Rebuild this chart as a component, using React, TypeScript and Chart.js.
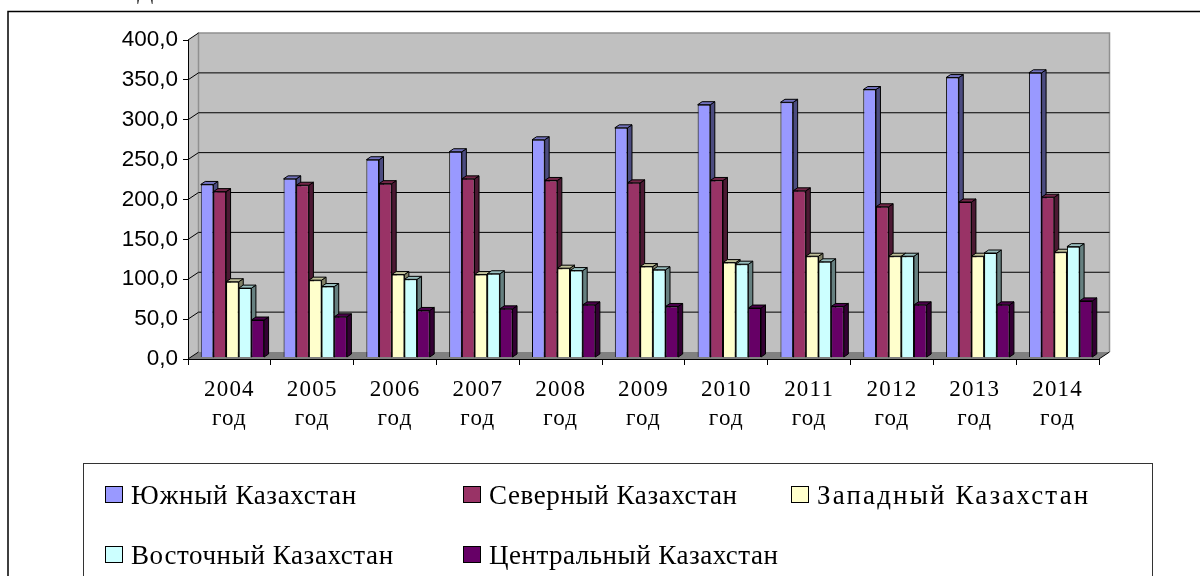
import React, { useEffect, useRef } from "react";
import { Chart, registerables } from "chart.js";

Chart.register(...registerables);

const categories = [["2004", "год"], ["2005", "год"], ["2006", "год"], ["2007", "год"], ["2008", "год"], ["2009", "год"], ["2010", "год"], ["2011", "год"], ["2012", "год"], ["2013", "год"], ["2014", "год"]];
const south = [217, 224, 248, 258, 273, 288, 317, 320, 336, 351, 357];
const north = [208, 216, 218, 224, 222, 219, 222, 209, 189, 195, 201];
const west = [95, 97, 104, 104, 112, 114, 119, 127, 127, 127, 132];
const east = [87, 89, 98, 105, 109, 110, 117, 120, 127, 131, 139];
const central = [47, 51, 59, 61, 66, 64, 62, 64, 66, 66, 71];
const seriesNames = ["Южный Казахстан", "Северный Казахстан", "Западный Казахстан", "Восточный Казахстан", "Центральный Казахстан"];
const seriesValues = [south, north, west, east, central];
const colors = ["#9999FF", "#993366", "#FFFFCC", "#CCFFFF", "#660066"];
const sideColors = ["#4C4C80", "#4C1933", "#808066", "#668080", "#330033"];
const topColors = ["#7373BF", "#732648", "#BFBF99", "#99BFBF", "#4C004C"];
const legendSpacing = ["0.65px", "0.6px", "2.15px", "0.6px", "0.5px"];

const WALL_DX = 10.5;
const WALL_DY = -7;
const BAR_DX = 3;
const BAR_DY = -1.5;
const DEPTH_X = 4.5;
const DEPTH_Y = -3;

const legendX = [105, 463, 791];
const legendRows = [486, 546];

const scene = {
  id: "scene",
  beforeDraw(chart: any) {
    const { ctx, chartArea: a, scales } = chart;
    const y = scales.y;
    ctx.save();
    // clipped remnant of the text above the frame
    ctx.fillStyle = "#333";
    ctx.font = '24px "Liberation Serif"';
    ctx.fillText("Д", 137, -1);
    // outer frame
    ctx.strokeStyle = "#000";
    ctx.lineWidth = 1.5;
    ctx.beginPath();
    ctx.moveTo(8, 577);
    ctx.lineTo(8, 11.5);
    ctx.lineTo(1200, 11.5);
    ctx.stroke();
    // back + side walls
    ctx.fillStyle = "#C0C0C0";
    ctx.beginPath();
    ctx.moveTo(a.left, a.top);
    ctx.lineTo(a.left + WALL_DX, a.top + WALL_DY);
    ctx.lineTo(a.right + WALL_DX, a.top + WALL_DY);
    ctx.lineTo(a.right + WALL_DX, a.bottom + WALL_DY);
    ctx.lineTo(a.left + WALL_DX, a.bottom + WALL_DY);
    ctx.lineTo(a.left, a.bottom);
    ctx.closePath();
    ctx.fill();
    // floor
    ctx.fillStyle = "#808080";
    ctx.beginPath();
    ctx.moveTo(a.left, a.bottom);
    ctx.lineTo(a.left + WALL_DX, a.bottom + WALL_DY);
    ctx.lineTo(a.right + WALL_DX, a.bottom + WALL_DY);
    ctx.lineTo(a.right, a.bottom);
    ctx.closePath();
    ctx.fill();
    // wall edges
    ctx.strokeStyle = "#909090";
    ctx.lineWidth = 1.5;
    ctx.beginPath();
    ctx.moveTo(a.left + WALL_DX, a.bottom + WALL_DY);
    ctx.lineTo(a.left + WALL_DX, a.top + WALL_DY);
    ctx.lineTo(a.right + WALL_DX, a.top + WALL_DY);
    ctx.lineTo(a.right + WALL_DX, a.bottom + WALL_DY);
    ctx.stroke();
    // gridlines on side wall and back wall
    ctx.lineWidth = 1;
    ctx.strokeStyle = "#000";
    y.ticks.forEach((t: any) => {
      const py = y.getPixelForValue(t.value);
      ctx.beginPath();
      ctx.moveTo(a.left, py);
      ctx.lineTo(a.left + WALL_DX, py + WALL_DY);
      if (t.value > 0 && t.value < 400) ctx.lineTo(a.right + WALL_DX, py + WALL_DY);
      ctx.stroke();
    });
    ctx.beginPath();
    ctx.moveTo(a.right, a.bottom);
    ctx.lineTo(a.right + WALL_DX, a.bottom + WALL_DY);
    ctx.stroke();
    ctx.restore();
    // spaced-out lettering of the category labels only
    const xScale = scales.x;
    if (!xScale.__spaced) {
      const original = xScale.drawLabels.bind(xScale);
      xScale.drawLabels = (area: any) => {
        ctx.letterSpacing = "1.2px";
        original(area);
        ctx.letterSpacing = "0px";
      };
      xScale.__spaced = true;
    }
  },
  beforeDatasetsDraw(chart: any) {
    const { ctx } = chart;
    ctx.save();
    ctx.translate(BAR_DX, BAR_DY);
    ctx.strokeStyle = "#000";
    ctx.lineWidth = 1;
    // side and top faces first, left to right; the library draws the fronts over them
    chart.data.datasets.forEach((_: any, i: number) => {
      chart.getDatasetMeta(i).data.forEach((bar: any) => {
        const l = bar.x - bar.width / 2;
        const r = bar.x + bar.width / 2;
        ctx.fillStyle = sideColors[i];
        ctx.beginPath();
        ctx.moveTo(r, bar.y);
        ctx.lineTo(r + DEPTH_X, bar.y + DEPTH_Y);
        ctx.lineTo(r + DEPTH_X, bar.base + DEPTH_Y);
        ctx.lineTo(r, bar.base);
        ctx.closePath();
        ctx.fill();
        ctx.stroke();
        ctx.fillStyle = topColors[i];
        ctx.beginPath();
        ctx.moveTo(l, bar.y);
        ctx.lineTo(l + DEPTH_X, bar.y + DEPTH_Y);
        ctx.lineTo(r + DEPTH_X, bar.y + DEPTH_Y);
        ctx.lineTo(r, bar.y);
        ctx.closePath();
        ctx.fill();
        ctx.stroke();
      });
    });
  },
  afterDatasetsDraw(chart: any) {
    chart.ctx.restore();
  },
  afterDraw(chart: any) {
    const { ctx } = chart;
    ctx.save();
    // legend box
    ctx.strokeStyle = "#333";
    ctx.lineWidth = 1;
    ctx.fillStyle = "#fff";
    ctx.fillRect(83.5, 463.5, 1069, 120);
    ctx.strokeRect(83.5, 463.5, 1069, 120);
    ctx.font = '27px "Liberation Serif"';
    ctx.textBaseline = "alphabetic";
    seriesNames.forEach((name, i) => {
      const x = legendX[i % 3];
      const top = legendRows[Math.floor(i / 3)];
      ctx.strokeStyle = "#000";
      ctx.fillStyle = colors[i];
      ctx.fillRect(x + 0.5, top + 0.5, 17, 16);
      ctx.strokeRect(x + 0.5, top + 0.5, 17, 16);
      ctx.fillStyle = "#000";
      ctx.letterSpacing = legendSpacing[i];
      ctx.fillText(name, x + 26, top + 18);
    });
    ctx.letterSpacing = "0px";
    ctx.restore();
  },
};

export default function App() {
  const ref = useRef<HTMLCanvasElement>(null);
  useEffect(() => {
    document.body.style.margin = "0";
    const chart = new Chart(ref.current!, {
      type: "bar",
      data: {
        labels: categories,
        datasets: seriesValues.map((data, i) => ({
          label: seriesNames[i],
          data,
          backgroundColor: colors[i],
          borderColor: "#000",
          borderWidth: 1,
          categoryPercentage: 0.765,
          barPercentage: 1,
        })),
      },
      options: {
        animation: false,
        responsive: false,
        layout: { autoPadding: false, padding: { top: 40, right: 101, left: 0, bottom: 0 } },
        plugins: { legend: { display: false }, tooltip: { enabled: false }, title: { display: false } },
        scales: {
          x: {
            afterFit: (s: any) => { s.height = 576 - 359; },
            grid: { drawOnChartArea: false, drawTicks: true, tickLength: 6, color: "#000", offset: true },
            border: { color: "#000" },
            ticks: { color: "#000", font: { family: "Liberation Serif", size: 23, lineHeight: 1.27 }, maxRotation: 0, autoSkip: false, padding: 10 },
          },
          y: {
            min: 0,
            max: 400,
            afterFit: (s: any) => { s.width = 188; },
            grid: { drawOnChartArea: false, drawTicks: true, tickLength: 5, color: "#000" },
            border: { color: "#000" },
            ticks: { stepSize: 50, color: "#000", font: { family: "Liberation Sans", size: 22.5 }, padding: 5, callback: (v: any) => Number(v).toFixed(1).replace(".", ",") },
          },
        },
      },
      plugins: [scene],
    } as any);
    return () => chart.destroy();
  }, []);
  return <canvas ref={ref} width={1200} height={576} style={{ display: "block" }} />;
}
